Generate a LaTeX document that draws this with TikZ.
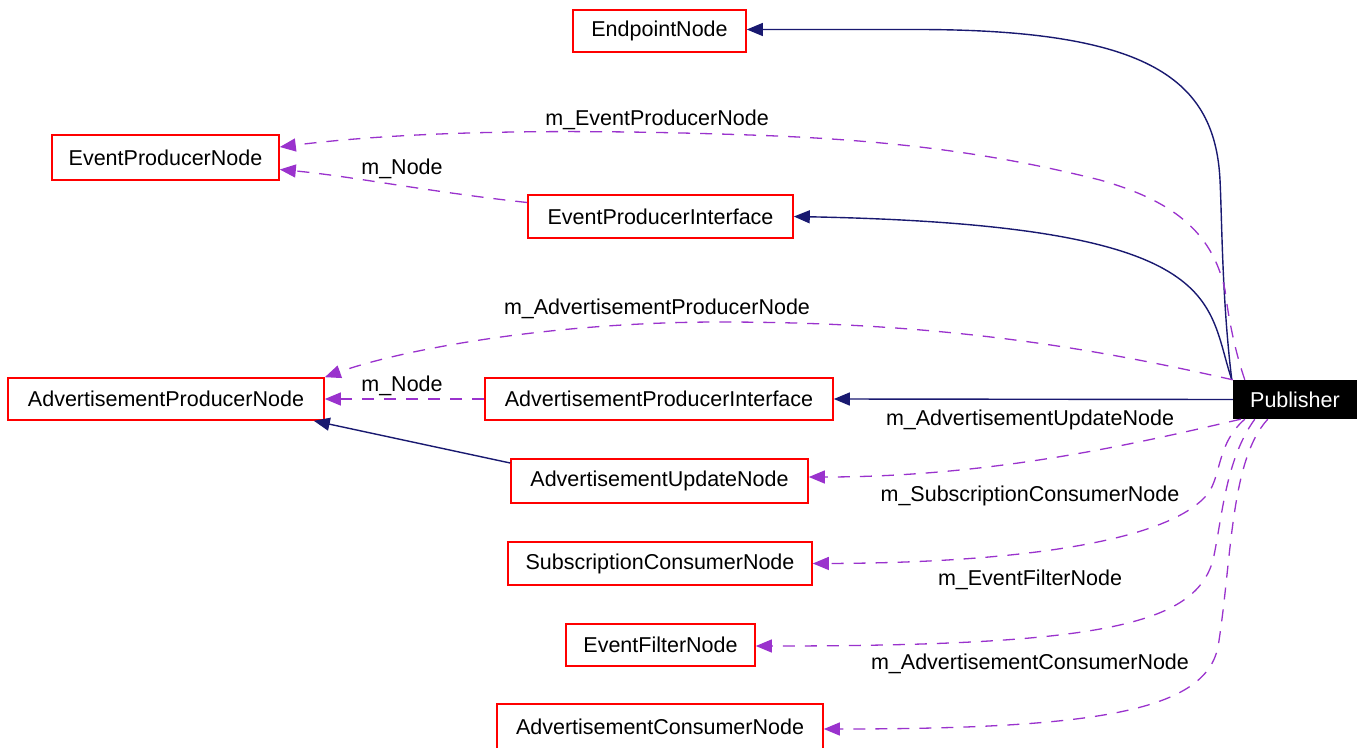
\documentclass[tikz,border=0pt]{standalone}
\usepackage{fontspec}
\setmainfont{Liberation Sans}
\usetikzlibrary{arrows.meta}
\definecolor{edgeblue}{HTML}{191970}
\definecolor{edgepurple}{HTML}{9A32CD}
\definecolor{boxred}{HTML}{FF0000}
\begin{document}
\begin{tikzpicture}[x=1pt,y=-1pt,
  every node/.style={font=\fontsize{21.5}{25}\selectfont, inner sep=0pt},
  classbox/.style={draw=boxred, line width=1.6pt, fill=white},
  mainbox/.style={fill=black, text=white},
  uses/.style={draw=edgepurple, line width=1.3pt, dash pattern=on 12pt off 10pt,
    -{Triangle[length=16pt,width=13pt]}},
  inherits/.style={draw=edgeblue, line width=1.4pt,
    -{Triangle[length=16pt,width=13pt]}},
  rolelabel/.style={text=black}]
\useasboundingbox (0,0) rectangle (1365,747);

% classes
\node[classbox, minimum width=173pt, minimum height=42pt] (endpoint) at (659.5,31) {EndpointNode};
\node[classbox, minimum width=227pt, minimum height=45pt] (epn) at (165.5,157.5) {EventProducerNode};
\node[classbox, minimum width=265pt, minimum height=43pt] (epi) at (660.5,216.5) {EventProducerInterface};
\node[classbox, minimum width=316pt, minimum height=42pt] (apn) at (166,399) {AdvertisementProducerNode};
\node[classbox, minimum width=348pt, minimum height=42pt] (api) at (659,399) {AdvertisementProducerInterface};
\node[classbox, minimum width=297pt, minimum height=44pt] (aun) at (659.5,481) {AdvertisementUpdateNode};
\node[classbox, minimum width=304pt, minimum height=43pt] (scn) at (660,563.5) {SubscriptionConsumerNode};
\node[classbox, minimum width=189pt, minimum height=42pt] (efn) at (660.5,645) {EventFilterNode};
\node[classbox, minimum width=326pt, minimum height=46pt] (acn) at (660,727) {AdvertisementConsumerNode};
\node[mainbox, minimum width=124pt, minimum height=39pt] (pub) at (1295,399.5) {Publisher};

% inheritance
\draw[inherits] ([xshift=-1pt]pub.north west) .. controls (1222,300) and (1222,220) .. (1220,180)
  .. controls (1215,80) and (1150,30) .. (920,29.5) -- ([yshift=1.5pt]endpoint.east);
\draw[inherits] ([xshift=-1pt]pub.north west) .. controls (1205,300) and (1230,225) .. (epi.east);
\draw[inherits] (pub.west) -- (api.east);
\draw[inherits] ([yshift=18pt]aun.west) -- ([xshift=-11pt]apn.south east);

% associations
\draw[uses] ([xshift=12pt]pub.north west) .. controls (1238,360) and (1230,330) .. (1225,290)
  .. controls (1212,230) and (1170,200) .. (1100,180)
  .. controls (1000,155) and (900,140) .. (750,135)
  .. controls (550,128) and (400,132) .. ([yshift=10.5pt]epn.east);
\node[rolelabel] (lepn) at (657,120) {m\_EventProducerNode};

\draw[uses] ([yshift=14pt]epi.west) .. controls (430,192) and (350,176) .. ([yshift=-12pt]epn.east);
\node[rolelabel] (lnode1) at (402,169) {m\_Node};

\draw[uses] (pub.north west) .. controls (1100,350) and (950,322) .. (720,322)
  .. controls (550,322) and (400,350) .. (apn.north east);
\node[rolelabel] (lapn) at (657,309) {m\_AdvertisementProducerNode};

\draw[uses] (api.west) -- (apn.east);
\node[rolelabel] (lnode2) at (402,386) {m\_Node};

\draw[uses] ([xshift=8pt]pub.south west) .. controls (1150,440) and (1000,477) .. ([yshift=4pt]aun.east);
\node[rolelabel] (laun) at (1030,420) {m\_AdvertisementUpdateNode};

\draw[uses] ([xshift=12pt]pub.south west) .. controls (1215,445) and (1222,480) .. (1205,497)
  .. controls (1160,545) and (1000,563) .. (scn.east);
\node[rolelabel] (lscn) at (1030,496) {m\_SubscriptionConsumerNode};

\draw[uses] ([xshift=22pt]pub.south west) .. controls (1225,460) and (1222,520) .. (1213,560)
  .. controls (1195,625) and (1100,646) .. ([yshift=-1pt]efn.east);
\node[rolelabel] (lefn) at (1030,580) {m\_EventFilterNode};

\draw[uses] ([xshift=35pt]pub.south west) .. controls (1230,460) and (1232,560) .. (1218,647)
  .. controls (1205,710) and (1100,729) .. ([yshift=-2pt]acn.east);
\node[rolelabel] (lacn) at (1030,664) {m\_AdvertisementConsumerNode};
\end{tikzpicture}
\end{document}
